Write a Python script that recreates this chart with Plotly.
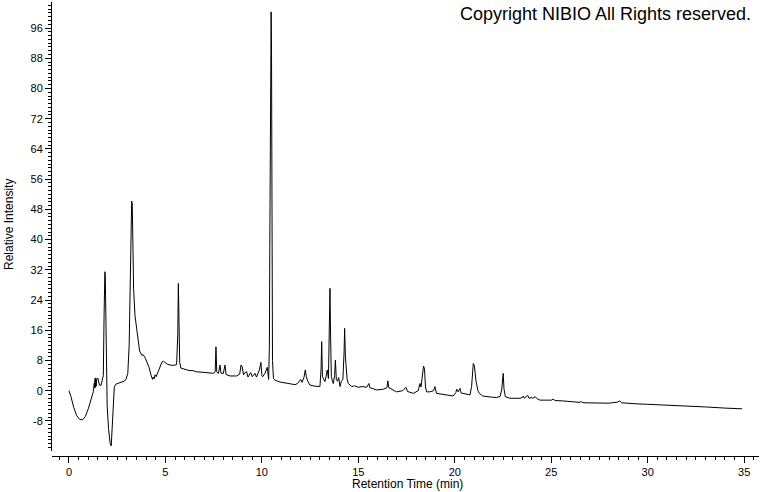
import plotly.graph_objects as go

# Retention time (min) and relative intensity
time_min = [
    0.00, 0.10, 0.25, 0.40, 0.55, 0.71, 0.85, 1.00, 1.15, 1.26, 1.31, 1.33, 1.35, 1.37, 1.39, 1.41, 1.43,
    1.50, 1.58, 1.66, 1.72, 1.78, 1.82, 1.86, 1.88, 1.90, 1.93, 1.98, 2.05, 2.13, 2.19, 2.23, 2.28,
    2.35, 2.45, 2.64, 2.85, 2.95, 3.05, 3.12, 3.17, 3.21, 3.25, 3.28, 3.31, 3.35, 3.42, 3.51, 3.60,
    3.66, 3.77, 3.85, 3.94, 4.05, 4.15, 4.25, 4.33, 4.37, 4.41, 4.46, 4.52, 4.62, 4.72, 4.82, 4.90,
    5.00, 5.10, 5.24, 5.40, 5.58, 5.64, 5.67, 5.70, 5.74, 5.80, 5.95, 6.18, 6.44, 6.62, 6.90, 7.14,
    7.48, 7.58, 7.62, 7.66, 7.75, 7.83, 7.88, 8.00, 8.09, 8.14, 8.35, 8.69, 8.85, 8.92, 8.98, 9.05,
    9.12, 9.21, 9.28, 9.42, 9.50, 9.64, 9.72, 9.87, 9.95, 10.00, 10.04, 10.15, 10.28, 10.35, 10.39,
    10.41, 10.44, 10.48, 10.50, 10.52, 10.55, 10.60, 10.68, 10.94, 11.29, 11.50, 11.72, 11.85, 12.01,
    12.08, 12.18, 12.25, 12.30, 12.37, 12.49, 12.75, 13.01, 13.07, 13.10, 13.14, 13.27, 13.39, 13.45,
    13.50, 13.53, 13.56, 13.60, 13.65, 13.70, 13.77, 13.81, 13.86, 13.92, 13.98, 14.05, 14.12, 14.20,
    14.26, 14.29, 14.33, 14.37, 14.42, 14.48, 14.66, 14.80, 15.00, 15.20, 15.43, 15.55, 15.60, 15.95,
    16.30, 16.48, 16.53, 16.58, 16.98, 17.30, 17.47, 17.55, 17.85, 18.10, 18.20, 18.25, 18.33, 18.38,
    18.43, 18.48, 18.54, 18.71, 18.90, 18.97, 19.05, 19.30, 19.58, 19.92, 20.05, 20.10, 20.17, 20.27,
    20.33, 20.60, 20.79, 20.87, 20.93, 20.96, 21.02, 21.10, 21.20, 21.27, 21.45, 21.65, 21.90, 22.17,
    22.35, 22.43, 22.48, 22.51, 22.55, 22.62, 22.86, 23.10, 23.38, 23.50, 23.55, 23.60, 23.70, 23.78,
    23.85, 23.95, 24.05, 24.16, 24.30, 24.42, 24.70, 25.02, 25.10, 25.20, 25.60, 26.00, 26.49, 26.55,
    26.60, 26.75, 27.00, 27.50, 28.00, 28.45, 28.55, 28.65, 29.00, 29.50, 30.00, 31.00, 32.00, 33.00,
    34.00, 34.90,
]
intensity = [
    0.0, -1.5, -4.5, -6.6, -7.6, -7.7, -6.8, -4.8, -2.2, -0.3, 2.0, 0.7, 3.2, 0.9, 3.4, 1.2, 3.0,
    3.3, 1.5, 1.4, 2.8, 4.0, 20.0, 31.5, 31.0, 24.0, 5.0, -4.0, -10.0, -13.8, -14.6, -11.0, -3.3,
    1.0, 1.8, 2.1, 2.5, 2.9, 4.6, 12.0, 25.0, 42.0, 50.2, 49.5, 40.0, 27.0, 20.0, 16.5, 12.5,
    10.5, 9.4, 9.5, 8.8, 7.5, 6.2, 4.2, 3.0, 3.6, 3.1, 4.2, 3.7, 5.0, 6.4, 7.6, 7.8,
    7.3, 7.0, 6.8, 6.7, 6.9, 15.0, 28.4, 20.0, 7.5, 6.0, 5.7, 5.4, 5.3, 5.0, 4.9, 4.8,
    4.6, 5.0, 11.6, 5.0, 4.6, 6.8, 4.6, 4.6, 6.8, 4.3, 3.9, 3.9, 4.4, 6.8, 6.3, 4.2,
    4.8, 5.0, 3.6, 4.8, 3.7, 4.6, 3.6, 5.5, 7.5, 4.0, 3.7, 4.5, 6.2, 3.0, 12.0,
    38.0, 88.0, 100.3, 90.0, 36.0, 8.0, 3.2, 2.8, 2.3, 2.1, 1.8, 1.6, 1.9, 3.0,
    2.2, 3.5, 5.5, 3.8, 2.6, 1.5, 1.2, 1.1, 6.0, 13.0, 3.7, 2.4, 5.5, 3.2,
    14.0, 27.1, 15.0, 3.7, 2.8, 1.9, 4.0, 8.1, 3.0, 2.5, 3.5, 1.1, 2.5, 3.0,
    10.0, 16.5, 9.0, 5.0, 3.0, 1.9, 1.1, 1.3, 0.9, 1.1, 0.9, 1.9, 0.8, 0.2,
    0.4, 0.8, 2.6, 0.8, -0.3, 0.0, 0.9, -0.2, -0.7, 0.0, 1.9, 1.0, 4.0, 6.5,
    5.8, 1.0, -0.3, -0.3, 0.0, 1.1, -0.7, -0.9, -1.1, -1.4, -0.5, 0.4, -0.3, 0.6,
    -0.6, -1.0, -1.1, 1.1, 6.5, 7.2, 6.5, 2.5, 0.0, -0.7, -1.4, -1.6, -1.7, -1.8,
    -1.5, 0.2, 3.5, 4.6, 0.5, -1.6, -2.0, -2.0, -2.0, -1.8, -1.4, -2.0, -1.6, -1.2,
    -2.0, -1.8, -2.0, -1.6, -2.2, -2.5, -2.5, -2.5, -2.2, -2.6, -2.7, -2.9, -3.1, -2.8,
    -3.1, -3.2, -3.2, -3.3, -3.3, -3.0, -2.7, -3.2, -3.4, -3.5, -3.6, -3.8, -4.0, -4.3,
    -4.6, -4.8,
]

x_ticks = [0, 5, 10, 15, 20, 25, 30, 35]
y_ticks = [-8, 0, 8, 16, 24, 32, 40, 48, 56, 64, 72, 80, 88, 96]

W, H = 760, 492
ml, mr, mt, mb = 52, 1, 2, 36
plot_w = W - ml - mr
plot_h = H - mt - mb

fig = go.Figure()
fig.add_trace(go.Scatter(
    x=time_min, y=intensity, mode="lines",
    line=dict(color="black", width=1), hoverinfo="skip", showlegend=False,
))

font = dict(family="Arial, Liberation Sans, sans-serif", size=11, color="black")
title_font = dict(family="Arial, Liberation Sans, sans-serif", size=12, color="black")

fig.update_layout(
    width=W, height=H,
    margin=dict(l=ml, r=mr, t=mt, b=mb, pad=0, autoexpand=False),
    paper_bgcolor="white", plot_bgcolor="white",
    font=font,
    xaxis=dict(
        range=[-0.88, 35.77], domain=[0, 1], anchor="free", position=0,
        automargin=False,
        tickmode="array", tickvals=x_ticks, ticktext=[str(v) for v in x_ticks],
        ticks="outside", ticklen=6, tickcolor="black", tickwidth=1,
        minor=dict(dtick=0.5, tick0=0, ticks="outside", ticklen=3, tickcolor="black"),
        showline=True, linecolor="black", linewidth=1, showgrid=False, zeroline=False,
        tickfont=font,
    ),
    yaxis=dict(
        range=[-15.96, 102.9], domain=[5 / plot_h, 1],
        automargin=False,
        tickmode="array", tickvals=y_ticks, ticktext=[str(v) for v in y_ticks],
        ticks="outside", ticklen=6, tickcolor="black", tickwidth=1,
        minor=dict(dtick=1, tick0=0, ticks="outside", ticklen=3, tickcolor="black"),
        showline=True, linecolor="black", linewidth=1, showgrid=False, zeroline=False,
        tickfont=font,
    ),
    annotations=[
        dict(
            text="Copyright NIBIO All Rights reserved.", xref="paper", yref="paper",
            x=(753 - ml) / plot_w, y=1, xanchor="right", yanchor="middle",
            showarrow=False, font=dict(family="Arial, Liberation Sans, sans-serif", size=18, color="black"),
            yshift=-(14 - mt),
        ),
        dict(
            text="Retention Time (min)", xref="paper", yref="paper",
            x=(408 - ml) / plot_w, y=0, xanchor="center", yanchor="middle",
            yshift=-(484 - (H - mb)), showarrow=False, font=title_font,
        ),
        dict(
            text="Relative Intensity", xref="paper", yref="paper",
            x=0, y=(H - mb - 225) / plot_h, xanchor="center", yanchor="middle",
            xshift=-(ml - 9), textangle=-90, showarrow=False, font=title_font,
        ),
    ],
)

fig.write_html(
    "out.html",
    config={"displayModeBar": False},
    post_script="document.body.style.margin='0';",
)
